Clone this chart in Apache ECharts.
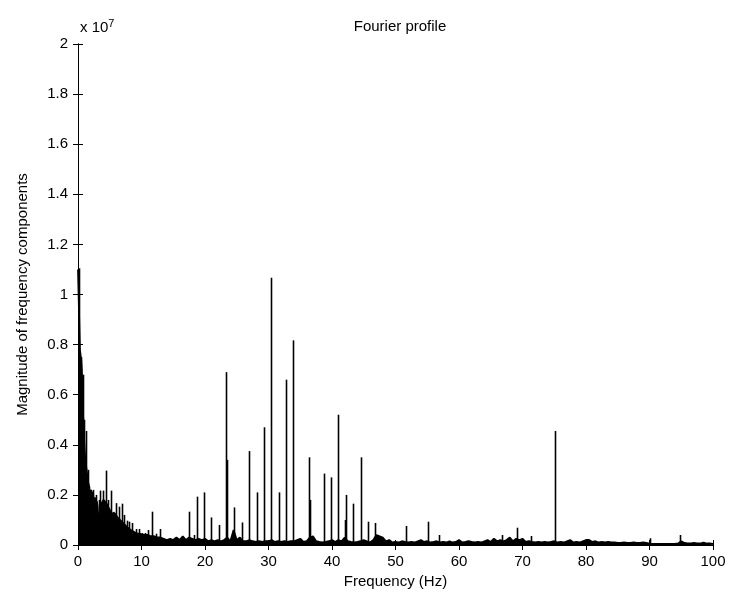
<!DOCTYPE html>
<html>
<head>
<meta charset="utf-8">
<script src="https://cdn.jsdelivr.net/npm/echarts@6/dist/echarts.min.js"></script>
<style>html,body{margin:0;padding:0;background:#fff}#c{width:730px;height:599px}</style>
</head>
<body>
<div id="c"></div>
<script>
// Magnitudes in units of 1e7
const floorFreq = [0,0.1,0.2,0.3,0.4,0.5,0.6,0.7,0.8,0.9,1.0,1.1,1.2,1.3,1.4,1.5,1.6,1.7,1.8,1.9,2.0,2.2,2.4,2.5,2.6,2.8,3.0,3.2,3.3,3.4,3.6,3.8,4.0,4.2,4.4,4.6,4.7,4.8,5.0,5.2,5.4,5.6,5.8,6.0,6.2,6.3,6.4,6.6,6.8,7.0,7.2,7.4,7.6,7.8,8.0,8.3,8.6,9.0,9.4,9.8,10.2,10.6,11.0,11.5,12.0,12.5,13.0,
13.5,14,14.5,15,15.5,16,16.5,17,17.5,18,18.5,19,19.5,20,20.5,21,21.5,22,22.5,23,23.5,24,24.5,25,25.5,26,26.5,27,27.5,28,28.5,29,29.5,30,30.5,31,31.5,32,32.5,33,33.5,34,34.5,35,35.5,36,36.5,37,37.5,38,38.5,39,39.5,40,40.5,41,41.5,42,42.5,43,43.5,44,44.5,45,45.5,46,46.5,47,47.5,48,48.5,49,49.5,50,50.5,51,51.5,52,52.5,53,53.5,54,54.5,55,55.5,56,56.5,57,57.5,58,58.5,59,59.5,60,60.5,61,61.5,62,62.5,63,63.5,64,64.5,65,65.5,66,66.5,67,67.5,68,68.5,69,69.5,70,70.5,71,71.5,72,72.5,73,73.5,74,74.5,75,75.5,76,76.5,77,77.5,78,78.5,79,79.5,80,80.5,81,81.5,82,82.5,83,83.5,84,84.5,85,85.5,86,86.5,87,87.5,88,88.5,89,89.5,90,90.5,91,91.5,92,92.5,93,93.5,94,94.5,95,95.5,96,96.5,97,97.5,98,98.5,99,99.5,100];
const floorMag = [1.10,1.10,1.10,0.78,0.76,0.74,0.70,0.62,0.52,0.46,0.40,0.36,0.33,0.31,0.29,0.27,0.25,0.24,0.23,0.03,0.22,0.21,0.20,0.02,0.19,0.18,0.17,0.17,0.02,0.16,0.16,0.17,0.18,0.18,0.17,0.16,0.02,0.15,0.14,0.13,0.12,0.13,0.13,0.12,0.11,0.02,0.11,0.10,0.10,0.09,0.09,0.08,0.075,0.07,0.065,0.06,0.055,0.05,0.045,0.045,0.04,0.04,0.04,0.035,0.035,0.03,0.03,
0.025,0.02,0.025,0.02,0.03,0.02,0.035,0.02,0.03,0.025,0.02,0.025,0.02,0.025,0.015,0.02,0.015,0.02,0.015,0.02,0.03,0.015,0.06,0.02,0.03,0.015,0.015,0.02,0.015,0.012,0.015,0.012,0.015,0.015,0.02,0.012,0.015,0.012,0.015,0.012,0.015,0.015,0.02,0.025,0.012,0.015,0.03,0.035,0.015,0.012,0.01,0.012,0.015,0.02,0.012,0.02,0.015,0.03,0.015,0.012,0.01,0.012,0.015,0.02,0.015,0.01,0.02,0.04,0.035,0.03,0.015,0.02,0.01,0.012,0.01,0.015,0.012,0.01,0.012,0.01,0.015,0.02,0.012,0.015,0.01,0.012,0.015,0.01,0.012,0.01,0.015,0.01,0.012,0.02,0.01,0.012,0.015,0.012,0.01,0.012,0.01,0.015,0.02,0.012,0.025,0.015,0.02,0.015,0.02,0.03,0.015,0.025,0.02,0.025,0.012,0.015,0.012,0.01,0.012,0.01,0.012,0.01,0.012,0.015,0.01,0.012,0.01,0.015,0.02,0.01,0.012,0.01,0.015,0.02,0.02,0.012,0.015,0.01,0.012,0.01,0.012,0.01,0.01,0.008,0.008,0.01,0.008,0.008,0.01,0.008,0.008,0.01,0.008,0.005,0.004,0.004,0.004,0.004,0.004,0.004,0.004,0.004,0.006,0.015,0.008,0.006,0.006,0.008,0.006,0.006,0.01,0.006,0.006,0.004];

const peakFreq = [0.2,0.5,0.84,0.95,1.26,1.6,1.94,2.4,2.8,3.3,3.5,3.9,4.4,4.78,5.15,5.56,5.93,6.4,6.93,7.3,7.7,8.0,8.5,9.1,9.55,10.0,10.55,11.1,11.6,12.3,12.9,17.5,18.2,18.7,19.8,21.0,22.2,23.3,23.45,24.6,25.8,27.0,28.2,29.3,30.4,31.6,32.8,33.9,36.4,36.5,38.7,39.9,41.0,42.1,42.2,43.3,44.5,45.6,46.8,51.7,55.1,56.8,66.7,69.1,71.3,75.05,90.0,94.8];
const peakMag = [1.105,0.75,0.68,0.5,0.455,0.30,0.22,0.22,0.20,0.18,0.217,0.217,0.297,0.18,0.217,0.12,0.167,0.153,0.165,0.12,0.097,0.093,0.088,0.064,0.064,0.048,0.048,0.06,0.133,0.045,0.064,0.133,0.04,0.193,0.21,0.11,0.08,0.69,0.34,0.15,0.09,0.375,0.21,0.47,1.067,0.21,0.66,0.817,0.35,0.18,0.285,0.27,0.52,0.10,0.20,0.165,0.35,0.093,0.088,0.076,0.093,0.04,0.04,0.069,0.036,0.455,0.027,0.04];

const xTicks = {min: 0, max: 100, step: 10};
const yTicks = {min: 0, max: 2, step: 0.2};

const floorData = floorFreq.map((f, i) => [f, floorMag[i]]);
const peakData = peakFreq.map((f, i) => [f, peakMag[i]]);

const FONT = 'Liberation Sans, Arial, sans-serif';
const chart = echarts.init(document.getElementById('c'), null, {renderer: 'canvas'});
const axisCommon = {
  axisLine: {show: true, lineStyle: {color: '#000', width: 1}},
  axisTick: {show: true, inside: true, length: 5, lineStyle: {color: '#000'}},
  splitLine: {show: false},
};
chart.setOption({
  backgroundColor: '#fff',
  animation: false,
  title: {
    text: 'Fourier profile', left: 395, top: 14, textAlign: 'center',
    textStyle: {fontFamily: FONT, fontSize: 15, fontWeight: 'normal', color: '#000'}
  },
  grid: {left: 78, right: 17, top: 44, bottom: 54, containLabel: false},
  xAxis: [
    Object.assign({
      type: 'value', min: xTicks.min, max: xTicks.max, interval: xTicks.step, position: 'bottom',
      name: 'Frequency (Hz)', nameLocation: 'middle', nameGap: 27,
      nameTextStyle: {fontFamily: FONT, fontSize: 15, color: '#000'},
      axisLabel: {fontFamily: FONT, fontSize: 15, color: '#000', margin: 9}
    }, axisCommon),
    Object.assign({
      type: 'value', min: xTicks.min, max: xTicks.max, interval: xTicks.step, position: 'top',
      axisLabel: {show: false}
    }, axisCommon)
  ],
  yAxis: [
    Object.assign({
      type: 'value', min: yTicks.min, max: yTicks.max, interval: yTicks.step, position: 'left',
      name: 'Magnitude of frequency components', nameLocation: 'middle', nameGap: 48,
      nameTextStyle: {fontFamily: FONT, fontSize: 15, color: '#000'},
      axisLabel: {fontFamily: FONT, fontSize: 15, color: '#000', margin: 10,
        formatter: v => String(Math.round(v * 10) / 10)}
    }, axisCommon),
    Object.assign({
      type: 'value', min: yTicks.min, max: yTicks.max, interval: yTicks.step, position: 'right',
      axisLabel: {show: false}
    }, axisCommon)
  ],
  graphic: [{
    type: 'text', left: 80, top: 18,
    style: {
      text: 'x 10{s|7}',
      rich: {s: {fontSize: 11, fontFamily: FONT, verticalAlign: 'top', padding: [0, 0, 8, 0]}},
      fontFamily: FONT, fontSize: 15, fill: '#000'
    }
  }],
  series: [
    {
      type: 'line', data: floorData, showSymbol: false, symbol: 'none',
      lineStyle: {color: '#000', width: 1.8},
      areaStyle: {color: '#000', opacity: 1, origin: 'start'},
      clip: true
    },
    {
      type: 'custom', data: peakData, clip: true,
      renderItem: function (params, api) {
        const p0 = api.coord([api.value(0), 0]);
        const p1 = api.coord([api.value(0), api.value(1)]);
        const x = Math.round(p0[0]) + 0.5;
        return {
          type: 'line',
          shape: {x1: x, y1: p0[1], x2: x, y2: p1[1]},
          style: {stroke: '#000', lineWidth: 1.6}
        };
      }
    }
  ]
});
</script>
</body>
</html>
